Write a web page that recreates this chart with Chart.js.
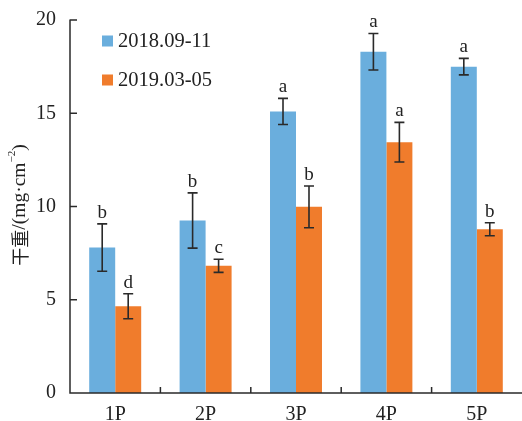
<!DOCTYPE html>
<html>
<head>
<meta charset="utf-8">
<script src="https://cdn.jsdelivr.net/npm/chart.js@4.4.1/dist/chart.umd.min.js"></script>
<style>
  html, body { margin: 0; padding: 0; background: #fff; }
  #wrap { width: 522px; height: 421px; position: relative; }
</style>
</head>
<body>
<div id="wrap"><canvas id="c"></canvas></div>
<script>
// Dry weight by position, two sampling periods
const categories = ['1P', '2P', '3P', '4P', '5P'];
const seriesNames = ['2018.09-11', '2019.03-05'];
const autumnValues = [7.8, 9.25, 15.1, 18.3, 17.5];
const autumnErrors = [1.27, 1.48, 0.7, 0.98, 0.44];
const autumnLetters = ['b', 'b', 'a', 'a', 'a'];
const springValues = [4.65, 6.82, 9.98, 13.45, 8.78];
const springErrors = [0.67, 0.35, 1.12, 1.06, 0.35];
const springLetters = ['d', 'c', 'b', 'a', 'b'];
const yTicks = [0, 5, 10, 15, 20];

const BLUE = '#6aaedd';
const ORANGE = '#f07c2c';
const INK = '#2a2a2a';
const SERIF = '"Liberation Serif"';
const CJK = '"Noto Sans CJK SC"';

// Error bars, letters, inward ticks, legend and the rotated y title
const decorations = {
  id: 'decorations',
  afterDatasetsDraw(chart) {
    const ctx = chart.ctx;
    const x = chart.scales.x, y = chart.scales.y;
    const area = chart.chartArea;
    ctx.save();

    // error bars + significance letters
    const sets = [
      { err: autumnErrors, letters: autumnLetters },
      { err: springErrors, letters: springLetters }
    ];
    sets.forEach((s, di) => {
      const meta = chart.getDatasetMeta(di);
      meta.data.forEach((bar, i) => {
        const v = chart.data.datasets[di].data[i];
        const cx = bar.x;
        const yTop = y.getPixelForValue(v + s.err[i]);
        const yBot = y.getPixelForValue(v - s.err[i]);
        ctx.strokeStyle = INK;
        ctx.lineWidth = 1.6;
        ctx.beginPath();
        ctx.moveTo(cx, yTop); ctx.lineTo(cx, yBot);
        ctx.moveTo(cx - 5, yTop); ctx.lineTo(cx + 5, yTop);
        ctx.moveTo(cx - 5, yBot); ctx.lineTo(cx + 5, yBot);
        ctx.stroke();
        ctx.fillStyle = '#222';
        ctx.font = '19px ' + SERIF;
        ctx.textAlign = 'center';
        ctx.textBaseline = 'alphabetic';
        ctx.fillText(s.letters[i], cx, yTop - 6);
      });
    });

    // axis lines and inward tick marks
    ctx.strokeStyle = INK;
    ctx.lineWidth = 1.5;
    ctx.beginPath();
    ctx.moveTo(area.left, area.top - 0.5);
    ctx.lineTo(area.left, area.bottom);
    ctx.lineTo(area.right, area.bottom);
    yTicks.forEach(t => {
      const py = y.getPixelForValue(t);
      ctx.moveTo(area.left, py); ctx.lineTo(area.left + 7, py);
    });
    for (let i = 1; i < categories.length; i++) {
      const px = (x.getPixelForValue(i - 1) + x.getPixelForValue(i)) / 2;
      ctx.moveTo(px, area.bottom); ctx.lineTo(px, area.bottom - 6);
    }
    ctx.stroke();

    // legend
    const legendRows = [41, 80];
    chart.data.datasets.forEach((ds, i) => {
      const cy = legendRows[i];
      ctx.fillStyle = ds.backgroundColor;
      ctx.fillRect(102, cy - 5.5, 11, 11);
      ctx.fillStyle = '#222';
      ctx.font = '20.5px ' + SERIF;
      ctx.textAlign = 'left';
      ctx.textBaseline = 'middle';
      ctx.fillText(ds.label, 118, cy + 1);
    });

    // y axis title: CJK part, serif part, superscript, closing paren
    ctx.translate(20, 205);
    ctx.rotate(-Math.PI / 2);
    ctx.fillStyle = '#222';
    ctx.textBaseline = 'middle';
    ctx.textAlign = 'left';
    const parts = [
      { t: '干重', f: '18px ' + CJK, dy: 0 },
      { t: '/(mg·cm', f: '19.5px ' + SERIF, dy: 0 },
      { t: '−2', f: '11px ' + SERIF, dy: -8 },
      { t: ')', f: '19.5px ' + SERIF, dy: 0 }
    ];
    let total = 0;
    parts.forEach(p => { ctx.font = p.f; p.w = ctx.measureText(p.t).width; total += p.w; });
    let sx = -total / 2;
    parts.forEach(p => {
      ctx.font = p.f;
      ctx.fillText(p.t, sx, p.dy);
      sx += p.w;
    });

    ctx.restore();
  }
};

new Chart(document.getElementById('c'), {
  type: 'bar',
  data: {
    labels: categories,
    datasets: [
      { label: seriesNames[0], data: autumnValues, backgroundColor: BLUE,
        categoryPercentage: 0.575, barPercentage: 1.0 },
      { label: seriesNames[1], data: springValues, backgroundColor: ORANGE,
        categoryPercentage: 0.575, barPercentage: 1.0 }
    ]
  },
  options: {
    responsive: true,
    maintainAspectRatio: false,
    animation: false,
    layout: { padding: { top: 20, right: 0, bottom: 0, left: 0 } },
    plugins: {
      legend: { display: false },
      tooltip: { enabled: false }
    },
    scales: {
      x: {
        grid: { display: false },
        border: { display: false },
        ticks: { color: '#222', font: { family: 'Liberation Serif', size: 20 }, padding: 2 },
        afterFit(s) { s.height = 28; }
      },
      y: {
        min: 0, max: 20,
        afterBuildTicks(s) { s.ticks = yTicks.map(v => ({ value: v })); },
        grid: { display: false },
        border: { display: false },
        ticks: { color: '#222', font: { family: 'Liberation Serif', size: 20 }, padding: 6 },
        afterFit(s) { s.width = 70; }
      }
    }
  },
  plugins: [decorations]
});
</script>
</body>
</html>
